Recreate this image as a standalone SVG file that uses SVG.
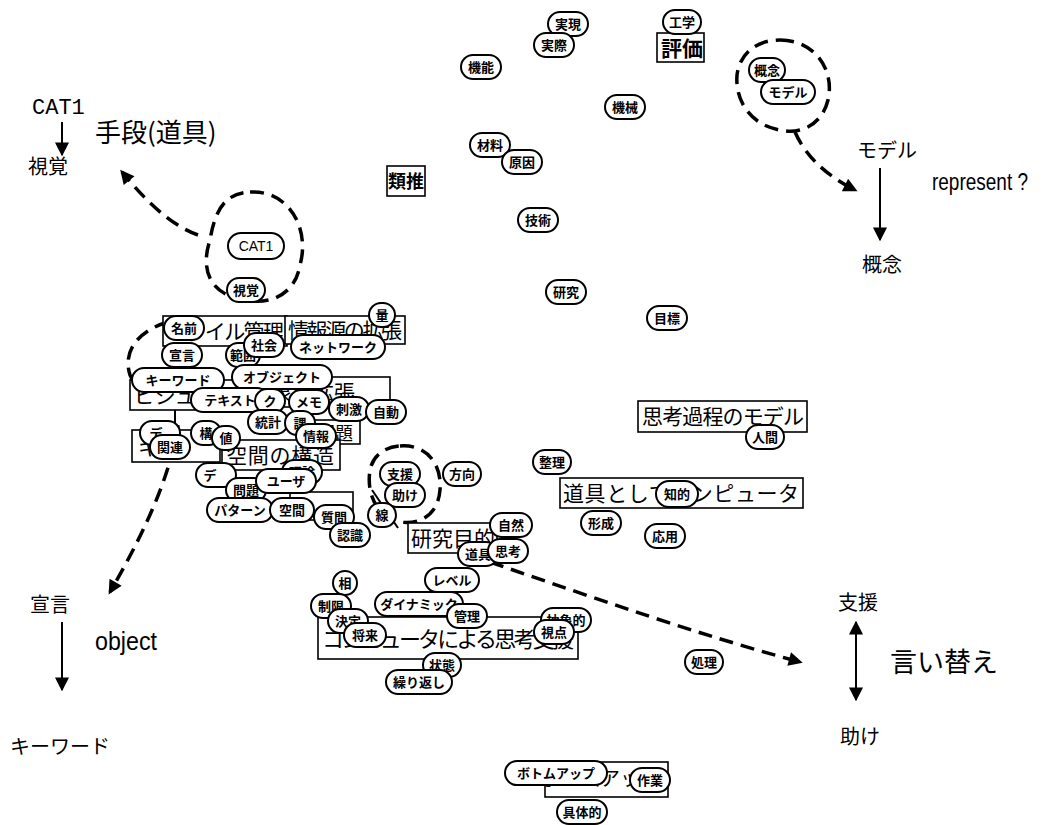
<svg xmlns="http://www.w3.org/2000/svg" width="1054" height="825" viewBox="0 0 1054 825">
<style>
.p rect{fill:#fff;stroke:#000;stroke-width:2}
.p text{font-family:"Noto Sans CJK JP",sans-serif;font-weight:bold;font-size:13px;text-anchor:middle}
.b rect{fill:#fff;stroke:#000;stroke-width:1.6}
.b text{font-family:"Noto Sans CJK JP",sans-serif;font-size:21px}
.a{font-family:"Noto Sans CJK JP",serif;font-size:20px}
.dash{fill:none;stroke:#000;stroke-width:3.5;stroke-dasharray:14 8}
.ln{fill:none;stroke:#000;stroke-width:2}
</style>
<defs>
<marker id="ah" viewBox="0 0 10 10" refX="9" refY="5" markerWidth="7" markerHeight="7" orient="auto-start-reverse">
<path d="M0,0 L10,5 L0,10 Z" fill="#000"/>
</marker>
<marker id="ahd" viewBox="0 0 10 10" refX="8" refY="5" markerUnits="userSpaceOnUse" markerWidth="16" markerHeight="14" orient="auto">
<path d="M0,0 L10,5 L0,10 Z" fill="#000"/>
</marker>
</defs>
<rect width="1054" height="825" fill="#fff"/>

<g id="annotations">
<text x="32" y="114" style="font-family:'Liberation Mono',monospace;font-size:22px">CAT1</text>
<text x="95" y="142" class="a" style="font-size:26px">手段(道具)</text>
<text x="28" y="174" class="a">視覚</text>
<text x="857" y="158" class="a">モデル</text>
<text x="932" y="190" style="font-family:'Liberation Sans',sans-serif;font-size:24px" textLength="96" lengthAdjust="spacingAndGlyphs">represent ?</text>
<text x="862" y="272" class="a">概念</text>
<text x="30" y="612" class="a">宣言</text>
<text x="95" y="650" style="font-family:'Liberation Sans',sans-serif;font-size:25px" textLength="62" lengthAdjust="spacingAndGlyphs">object</text>
<text x="10" y="754" class="a">キーワード</text>
<text x="838" y="610" class="a">支援</text>
<text x="890" y="672" class="a" style="font-size:27px">言い替え</text>
<text x="840" y="744" class="a">助け</text>
</g>

<g id="connectors">
<line x1="62" y1="122" x2="62" y2="155" class="ln" marker-end="url(#ah)"/>
<line x1="880" y1="168" x2="880" y2="240" class="ln" marker-end="url(#ah)"/>
<line x1="62" y1="622" x2="62" y2="690" class="ln" marker-end="url(#ah)"/>
<line x1="856" y1="622" x2="856" y2="700" class="ln" marker-start="url(#ah)" marker-end="url(#ah)"/>
<path class="dash" d="M250,192 C290,190 310,230 300,265 C295,295 270,305 245,300 C210,295 200,270 210,240 C215,210 225,193 250,192 Z"/>
<path class="dash" d="M780,40 C815,40 835,70 828,100 C822,125 800,135 780,130 C750,125 735,100 737,75 C740,52 758,40 780,40 Z"/>
<path class="dash" d="M400,446 C425,444 442,462 440,490 C438,515 420,525 400,522 C378,518 366,495 370,470 C373,455 385,447 400,446 Z"/>
<path class="dash" d="M168,322 C140,330 122,350 130,375 L140,395"/>
<path class="dash" d="M198,235 C170,225 145,200 122,172" marker-end="url(#ahd)"/>
<path class="dash" d="M795,132 C805,155 825,175 855,190" marker-end="url(#ahd)"/>
<path class="dash" d="M178,425 C170,480 140,540 110,592" marker-end="url(#ahd)"/>
<path class="dash" d="M490,562 C600,600 700,635 800,662" marker-end="url(#ahd)"/>
<line x1="205" y1="325" x2="240" y2="348" class="ln"/>
<line x1="228" y1="340" x2="240" y2="372" class="ln"/>
<line x1="372" y1="490" x2="398" y2="528" class="ln"/>
<line x1="175" y1="398" x2="175" y2="430" class="ln"/>
</g>

<g id="boxes">
<g class="b" id="n-hyoka"><rect x="657" y="33" width="47" height="29"/><text x="661" y="56" style="font-weight:bold">評価</text></g>
<g class="b" id="n-ruisui"><rect x="387" y="166" width="38" height="30"/><text x="388" y="188" style="font-size:18px;font-weight:bold">類推</text></g>
<g class="b" id="n-shikou-model"><rect x="638" y="401" width="169" height="31"/><text x="642" y="424" textLength="162">思考過程のモデル</text></g>
<g class="b" id="n-dougu-computer"><rect x="560" y="478" width="243" height="30"/><text x="563" y="501" textLength="236">道具としてコンピュータ</text></g>
<g class="b" id="n-kenkyu-mokuteki"><rect x="408" y="523" width="89" height="30"/><text x="411" y="546" textLength="84">研究目的</text></g>
<g class="b" id="n-computer-shien"><rect x="318" y="617" width="260" height="42"/><text x="322" y="647" textLength="252" style="font-size:22px">コンピュータによる思考支援</text></g>
<g class="b" id="n-bottomup-box"><rect x="545" y="762" width="123" height="35"/><text x="540" y="786" style="font-size:20px">ボトムアップ</text></g>
<g class="b" id="n-file"><rect x="163" y="316" width="124" height="30"/><text x="166" y="339" textLength="118">ファイル管理</text></g>
<g class="b" id="n-jouhougen"><rect x="285" y="316" width="120" height="28"/><text x="288" y="338" textLength="114">情報源の拡張</text></g>
<g class="b" id="n-taisho"><rect x="240" y="377" width="150" height="30"/><text x="250" y="400" textLength="105">対象の拡張</text></g>
<g class="b" id="n-visual"><rect x="130" y="380" width="110" height="30"/><text x="134" y="403">ビジュアル</text></g>
<g class="b" id="n-mondai"><rect x="303" y="420" width="57" height="24"/><text x="317" y="440" style="font-size:18px">問題</text></g>
<g class="b" id="n-text-box"><rect x="132" y="430" width="88" height="32"/><text x="138" y="455">キー</text></g>
<g class="b" id="n-kukan-kouzou"><rect x="222" y="440" width="118" height="30"/><text x="226" y="463" textLength="108">空間の構造</text></g>
<g class="b" id="n-frame"><rect x="290" y="492" width="63" height="28"/></g>
</g>

<g id="pills">
<g class="p" id="p-jitsugen"><rect x="548" y="12" width="40" height="24" rx="12"/><text x="568" y="29">実現</text></g>
<g class="p" id="p-jissai"><rect x="534" y="33" width="40" height="24" rx="12"/><text x="554" y="50">実際</text></g>
<g class="p" id="p-kinou"><rect x="461" y="55" width="40" height="24" rx="12"/><text x="481" y="72">機能</text></g>
<g class="p" id="p-kougaku"><rect x="663" y="10" width="38" height="24" rx="12"/><text x="682" y="27">工学</text></g>
<g class="p" id="p-kikai"><rect x="605" y="95" width="40" height="24" rx="12"/><text x="625" y="112">機械</text></g>
<g class="p" id="p-gainen"><rect x="749" y="58" width="36" height="24" rx="12"/><text x="767" y="75">概念</text></g>
<g class="p" id="p-model"><rect x="761" y="80" width="54" height="24" rx="12"/><text x="788" y="97">モデル</text></g>
<g class="p" id="p-zairyou"><rect x="470" y="133" width="40" height="24" rx="12"/><text x="490" y="150">材料</text></g>
<g class="p" id="p-genin"><rect x="502" y="150" width="40" height="24" rx="12"/><text x="522" y="167">原因</text></g>
<g class="p" id="p-gijutsu"><rect x="518" y="208" width="40" height="24" rx="12"/><text x="538" y="225">技術</text></g>
<g class="p" id="p-kenkyu"><rect x="546" y="280" width="40" height="24" rx="12"/><text x="566" y="297">研究</text></g>
<g class="p" id="p-mokuhyou"><rect x="647" y="306" width="40" height="24" rx="12"/><text x="667" y="323">目標</text></g>
<g class="p" id="p-cat1"><rect x="228" y="233" width="56" height="26" rx="13"/><text x="256" y="251" style="font-family:'Liberation Sans',sans-serif;font-weight:normal;font-size:14px">CAT1</text></g>
<g class="p" id="p-shikaku"><rect x="227" y="278" width="38" height="24" rx="12"/><text x="246" y="295">視覚</text></g>

<g class="p" id="p-ningen"><rect x="746" y="425" width="38" height="24" rx="12"/><text x="765" y="442">人間</text></g>
<g class="p" id="p-seiri"><rect x="533" y="450" width="38" height="24" rx="12"/><text x="552" y="467">整理</text></g>
<g class="p" id="p-chiteki"><rect x="656" y="481" width="42" height="26" rx="13"/><text x="677" y="499">知的</text></g>
<g class="p" id="p-keisei"><rect x="581" y="511" width="40" height="24" rx="12"/><text x="601" y="528">形成</text></g>
<g class="p" id="p-ouyou"><rect x="645" y="524" width="40" height="24" rx="12"/><text x="665" y="541">応用</text></g>
<g class="p" id="p-shori"><rect x="685" y="650" width="38" height="24" rx="12"/><text x="704" y="667">処理</text></g>

<g class="p" id="p-shien"><rect x="380" y="462" width="40" height="24" rx="12"/><text x="400" y="479">支援</text></g>
<g class="p" id="p-tasuke"><rect x="385" y="483" width="40" height="24" rx="12"/><text x="405" y="500">助け</text></g>
<g class="p" id="p-houkou"><rect x="443" y="462" width="38" height="24" rx="12"/><text x="462" y="479">方向</text></g>
<g class="p" id="p-sen"><rect x="368" y="503" width="28" height="24" rx="12"/><text x="382" y="520">線</text></g>
<g class="p" id="p-shizen"><rect x="490" y="513" width="42" height="24" rx="12"/><text x="511" y="530">自然</text></g>
<g class="p" id="p-dougu"><rect x="458" y="542" width="40" height="24" rx="12"/><text x="478" y="559">道具</text></g>
<g class="p" id="p-shikou"><rect x="488" y="539" width="40" height="24" rx="12"/><text x="508" y="556">思考</text></g>

<g class="p" id="p-sou"><rect x="333" y="571" width="24" height="24" rx="12"/><text x="345" y="588">相</text></g>
<g class="p" id="p-seigen"><rect x="311" y="594" width="40" height="24" rx="12"/><text x="331" y="611">制限</text></g>
<g class="p" id="p-level"><rect x="425" y="568" width="54" height="24" rx="12"/><text x="452" y="585">レベル</text></g>
<g class="p" id="p-dynamic"><rect x="375" y="592" width="88" height="24" rx="12"/><text x="419" y="609">ダイナミック</text></g>
<g class="p" id="p-kanri"><rect x="447" y="604" width="40" height="24" rx="12"/><text x="467" y="621">管理</text></g>
<g class="p" id="p-kettei"><rect x="328" y="609" width="40" height="24" rx="12"/><text x="348" y="626">決定</text></g>
<g class="p" id="p-shourai"><rect x="344" y="623" width="42" height="24" rx="12"/><text x="365" y="640">将来</text></g>
<g class="p" id="p-joutai"><rect x="423" y="653" width="38" height="24" rx="12"/><text x="442" y="670">状態</text></g>
<g class="p" id="p-kurikaeshi"><rect x="386" y="670" width="66" height="24" rx="12"/><text x="419" y="687">繰り返し</text></g>
<g class="p" id="p-chushouteki"><rect x="541" y="608" width="50" height="24" rx="12"/><text x="566" y="625">抽象的</text></g>
<g class="p" id="p-shiten"><rect x="534" y="620" width="40" height="24" rx="12"/><text x="554" y="637">視点</text></g>

<g class="p" id="p-bottomup"><rect x="505" y="761" width="102" height="24" rx="12"/><text x="556" y="778">ボトムアップ</text></g>
<g class="p" id="p-sagyou"><rect x="630" y="768" width="40" height="24" rx="12"/><text x="650" y="785">作業</text></g>
<g class="p" id="p-gutaiteki"><rect x="557" y="800" width="50" height="24" rx="12"/><text x="582" y="817">具体的</text></g>

<g class="p" id="p-ryou"><rect x="369" y="303" width="26" height="24" rx="12"/><text x="382" y="320">量</text></g>
<g class="p" id="p-namae"><rect x="164" y="316" width="40" height="24" rx="12"/><text x="184" y="333">名前</text></g>
<g class="p" id="p-sengen"><rect x="162" y="343" width="40" height="24" rx="12"/><text x="182" y="360">宣言</text></g>
<g class="p" id="p-hanni"><rect x="226" y="343" width="34" height="24" rx="12"/><text x="243" y="360">範囲</text></g>
<g class="p" id="p-shakai"><rect x="244" y="333" width="40" height="24" rx="12"/><text x="264" y="350">社会</text></g>
<g class="p" id="p-network"><rect x="291" y="335" width="94" height="24" rx="12"/><text x="338" y="352">ネットワーク</text></g>
<g class="p" id="p-keyword"><rect x="132" y="368" width="92" height="24" rx="12"/><text x="178" y="385">キーワード</text></g>
<g class="p" id="p-object"><rect x="232" y="365" width="100" height="24" rx="12"/><text x="282" y="382">オブジェクト</text></g>
<g class="p" id="p-text"><rect x="191" y="388" width="78" height="24" rx="12"/><text x="230" y="405">テキスト</text></g>
<g class="p" id="p-ku"><rect x="255" y="389" width="30" height="24" rx="12"/><text x="270" y="406">ク</text></g>
<g class="p" id="p-memo"><rect x="289" y="390" width="40" height="24" rx="12"/><text x="309" y="407">メモ</text></g>
<g class="p" id="p-shigeki"><rect x="329" y="397" width="40" height="24" rx="12"/><text x="349" y="414">刺激</text></g>
<g class="p" id="p-jidou"><rect x="366" y="400" width="40" height="24" rx="12"/><text x="386" y="417">自動</text></g>
<g class="p" id="p-toukei"><rect x="248" y="410" width="40" height="24" rx="12"/><text x="268" y="427">統計</text></g>
<g class="p" id="p-ka"><rect x="285" y="411" width="30" height="24" rx="12"/><text x="300" y="428">課</text></g>
<g class="p" id="p-jouhou"><rect x="296" y="424" width="40" height="24" rx="12"/><text x="316" y="441">情報</text></g>
<g class="p" id="p-de1"><rect x="140" y="421" width="40" height="24" rx="12"/><text x="156" y="438">デ</text></g>
<g class="p" id="p-kou"><rect x="191" y="421" width="30" height="24" rx="12"/><text x="206" y="438">構</text></g>
<g class="p" id="p-atai"><rect x="212" y="426" width="28" height="24" rx="12"/><text x="226" y="443">値</text></g>
<g class="p" id="p-kanren"><rect x="150" y="435" width="40" height="24" rx="12"/><text x="170" y="452">関連</text></g>
<g class="p" id="p-riron"><rect x="282" y="460" width="40" height="24" rx="12"/><text x="302" y="477">理論</text></g>
<g class="p" id="p-de2"><rect x="196" y="463" width="40" height="24" rx="12"/><text x="210" y="480">デ</text></g>
<g class="p" id="p-mondai"><rect x="226" y="478" width="40" height="24" rx="12"/><text x="246" y="495">問題</text></g>
<g class="p" id="p-user"><rect x="256" y="469" width="60" height="24" rx="12"/><text x="286" y="486">ユーザ</text></g>
<g class="p" id="p-pattern"><rect x="207" y="498" width="66" height="24" rx="12"/><text x="240" y="515">パターン</text></g>
<g class="p" id="p-kukan"><rect x="270" y="498" width="44" height="24" rx="12"/><text x="292" y="515">空間</text></g>
<g class="p" id="p-shitsumon"><rect x="314" y="505" width="40" height="24" rx="12"/><text x="334" y="522">質問</text></g>
<g class="p" id="p-ninshiki"><rect x="330" y="523" width="40" height="24" rx="12"/><text x="350" y="540">認識</text></g>
</g>
</svg>
